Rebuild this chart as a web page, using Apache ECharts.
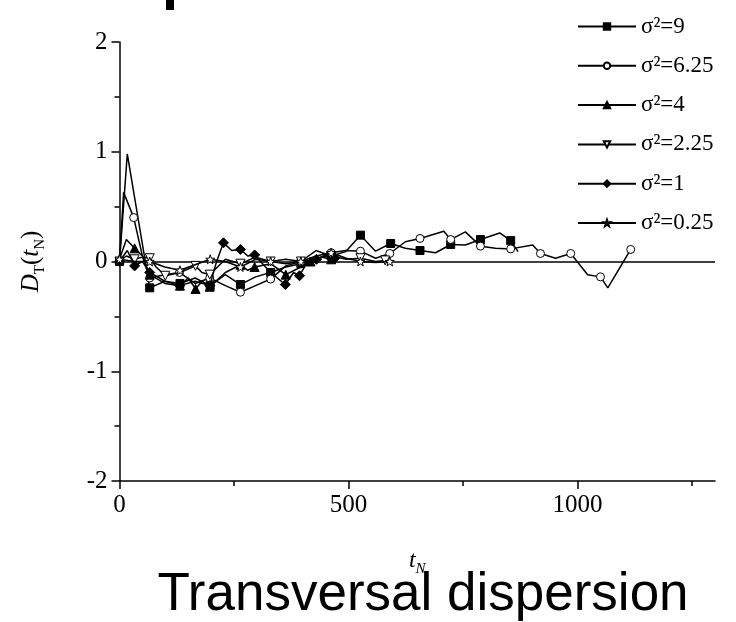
<!DOCTYPE html>
<html><head><meta charset="utf-8">
<script src="https://cdn.jsdelivr.net/npm/echarts@6/dist/echarts.min.js"></script>
<style>html,body{margin:0;padding:0;background:#fff}#c{width:736px;height:622px}</style>
</head><body><div id="c"></div>
<script>
// ---- data (t_N, D_T) ----
const seriesNames = ['σ²=9', 'σ²=6.25', 'σ²=4', 'σ²=2.25', 'σ²=1', 'σ²=0.25'];

const s9 = [[0,0.0],[17,0.98],[66,-0.24],[99,-0.18],[132,-0.2],[165,-0.15],[198,-0.22],[231,-0.12],[264,-0.21],[297,-0.14],[330,-0.1],[363,-0.05],[396,-0.02],[429,0.03],[462,0.05],[494,0.09],[526,0.24],[559,0.094],[592,0.164],[624,0.12],[656,0.10],[690,0.08],[723,0.155],[755,0.15],[788,0.20],[830,0.26],[854,0.19],[870,0.09]];

const s625 = [[0,0.0],[9,0.63],[31,0.4],[50,0.05],[66,-0.15],[99,-0.12],[131,-0.1],[165,-0.2],[197,-0.15],[231,-0.22],[264,-0.28],[297,-0.22],[330,-0.16],[363,-0.04],[396,0.0],[429,0.02],[462,0.08],[494,0.1],[526,0.094],[559,0.03],[590,0.073],[624,0.18],[656,0.21],[708,0.276],[723,0.20],[755,0.27],[788,0.14],[821,0.12],[854,0.115],[902,0.15],[919,0.073],[952,0.03],[985,0.073],[1022,-0.12],[1050,-0.14],[1066,-0.24],[1116,0.11]];

const s4 = [[0,0.02],[15,0.2],[33,0.12],[50,0.05],[66,-0.12],[99,-0.2],[132,-0.22],[150,-0.15],[166,-0.25],[180,-0.18],[197,-0.23],[231,-0.1],[264,-0.03],[280,-0.08],[295,-0.05],[330,-0.02],[363,-0.12],[396,-0.05],[417,0.0],[440,0.04],[462,0.02]];

const s225 = [[0,0.0],[15,0.05],[33,0.02],[50,0.04],[66,0.03],[80,-0.05],[100,-0.13],[132,-0.1],[166,-0.04],[180,-0.1],[197,-0.12],[231,0.02],[264,-0.02],[297,0.04],[330,0.0],[363,0.02],[396,0.0],[429,0.1],[462,0.05],[495,0.02],[526,0.03],[559,0.0],[580,0.01]];

const s1 = [[0,0.0],[17,0.1],[33,-0.04],[50,0.0],[66,-0.1],[99,-0.18],[131,-0.22],[165,-0.18],[197,-0.22],[212,0.0],[227,0.17],[245,0.1],[264,0.11],[280,0.05],[295,0.06],[330,-0.1],[362,-0.21],[380,-0.1],[393,-0.13],[410,0.0],[430,0.02],[450,0.05],[470,0.03]];

const s025 = [[0,0.02],[33,0.0],[66,0.0],[99,-0.05],[132,-0.08],[165,-0.03],[198,0.02],[231,0.0],[264,-0.05],[297,0.02],[330,0.0],[363,-0.02],[396,0.0],[429,0.05],[462,0.08],[495,0.03],[526,0.0],[559,-0.01],[590,0.0]];

const xMajorTicks = [0, 500, 1000];
const xMinorTicks = [250, 750, 1250];
const yTickValues = [-2, -1, 0, 1, 2];

// ---- rendering ----
const SERIF = 'Liberation Serif, Times New Roman, serif';
const styles = [
  {symbol:'rect', size:8, fill:'#000', rot:0},
  {symbol:'circle', size:8, fill:'#fff', rot:0},
  {symbol:'triangle', size:9, fill:'#000', rot:0},
  {symbol:'triangle', size:9, fill:'#fff', rot:180},
  {symbol:'diamond', size:10, fill:'#000', rot:0},
  {symbol:'path://M0,-10 L2.35,-3.24 L9.51,-3.09 L3.8,1.24 L5.88,8.09 L0,4 L-5.88,8.09 L-3.8,1.24 L-9.51,-3.09 L-2.35,-3.24 Z', size:9, fill:'#fff', rot:0}
];
const allData = [s9, s625, s4, s225, s1, s025];

function build(pts){
  return pts.map((p,i)=> i%2===0 ? {value:p} : {value:p, symbol:'none'});
}

const series = allData.map((d,k)=>({
  name: seriesNames[k],
  type:'line',
  data: build(d),
  symbol: styles[k].symbol,
  symbolSize: styles[k].size,
  symbolRotate: styles[k].rot,
  showAllSymbol: true,
  lineStyle:{color:'#000', width:1.5},
  itemStyle:{color: styles[k].fill, borderColor:'#000', borderWidth:1},
  emphasis:{disabled:true},
  animation:false,
  z: 3 + k
}));
series.push({
  name:'zero', type:'line', data:[], silent:true, animation:false,
  markLine:{silent:true, symbol:'none', label:{show:false}, animation:false,
    lineStyle:{color:'#000', width:1.5, type:'solid'}, data:[{yAxis:0}]}
});

const chart = echarts.init(document.getElementById('c'), null, {renderer:'canvas'});
chart.setOption({
  backgroundColor:'#fff',
  animation:false,
  grid:{left:119.5, right:21, top:42, bottom:141, containLabel:false},
  legend:{
    data: seriesNames,
    orient:'vertical', left:572, top:10,
    itemWidth:58, itemHeight:8, itemGap:16.3,
    selectedMode:false,
    textStyle:{color:'#000', fontFamily:SERIF, fontSize:23}
  },
  xAxis:[{
    type:'value', min:0, max:1300, interval:500,
    axisLine:{onZero:false, lineStyle:{color:'#000', width:1.5}},
    axisTick:{show:true, length:8, inside:false, customValues:xMajorTicks, lineStyle:{color:'#000', width:1.5}},
    minorTick:{show:false},
    splitLine:{show:false},
    axisLabel:{color:'#000', fontFamily:SERIF, fontSize:25, margin:12, customValues:xMajorTicks,
      formatter: v => String(v)},
    name:'{it|t}{sub|N}', nameLocation:'middle', nameGap:64,
    nameTextStyle:{rich:{
      it:{fontFamily:SERIF, fontStyle:'italic', fontSize:24, color:'#000', lineHeight:32},
      sub:{fontFamily:SERIF, fontStyle:'italic', fontSize:15, color:'#000', lineHeight:32, verticalAlign:'bottom'}
    }}
  },{
    type:'value', min:0, max:1300, interval:250, position:'bottom',
    axisLine:{show:false, onZero:false},
    axisTick:{show:true, length:5, inside:false, customValues:xMinorTicks, lineStyle:{color:'#000', width:1.5}},
    splitLine:{show:false},
    axisLabel:{show:false}
  }],
  yAxis:{
    type:'value', min:-2, max:2, interval:1,
    axisLine:{onZero:false, lineStyle:{color:'#000', width:1.5}},
    axisTick:{show:true, length:8, inside:false, lineStyle:{color:'#000', width:1.5}},
    minorTick:{show:true, splitNumber:2, length:5, lineStyle:{color:'#000', width:1.5}},
    splitLine:{show:false},
    axisLabel:{color:'#000', fontFamily:SERIF, fontSize:25, margin:12,
      formatter: v => yTickValues.includes(v) ? String(v) : ''},
    name:'{it|D}{sub|T}{n|(}{it|t}{sub|N}{n|)}', nameLocation:'middle', nameGap:72, nameRotate:90,
    nameTextStyle:{rich:{
      it:{fontFamily:SERIF, fontStyle:'italic', fontSize:25, color:'#000', lineHeight:32},
      n:{fontFamily:SERIF, fontSize:25, color:'#000', lineHeight:32},
      sub:{fontFamily:SERIF, fontSize:15, color:'#000', lineHeight:32, verticalAlign:'bottom'}
    }}
  },
  graphic:[
    {type:'rect', shape:{x:166, y:0, width:8, height:10}, style:{fill:'#000'}},
    {type:'text', x:423, y:595, style:{text:'Transversal dispersion', fontFamily:'Liberation Sans, Arial, sans-serif', fontSize:53, fill:'#000', textAlign:'center', textVerticalAlign:'middle'}}
  ],
  series: series
});
</script>
</body></html>
